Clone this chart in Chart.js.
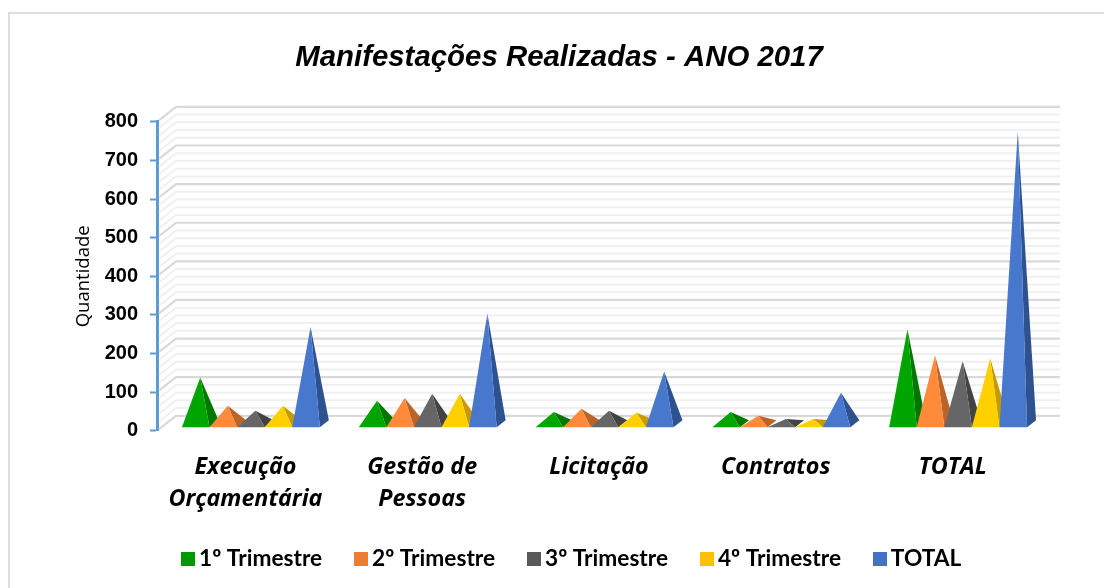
<!DOCTYPE html>
<html><head><meta charset="utf-8">
<style>html,body{margin:0;padding:0;background:#fff}#w{width:1104px;height:588px;position:relative}</style>
<script src="https://cdn.jsdelivr.net/npm/chart.js@4"></script></head>
<body><div id="w"><canvas id="c" width="1104" height="588"></canvas></div>
<script>
const categories = [['Execução','Orçamentária'],['Gestão de','Pessoas'],'Licitação','Contratos','TOTAL'];
const trimestre1 = [121,61,32,32,246];
const trimestre2 = [48,68,40,22,178];
const trimestre3 = [35,79,35,14,163];
const trimestre4 = [48,79,30,14,171];
const totalSerie = [252,287,137,82,758];
const seriesNames = ['1º Trimestre','2º Trimestre','3º Trimestre','4º Trimestre','TOTAL'];
const legendColors = ['#009A00','#ED7D31','#595959','#FFC000','#4472C4'];
const frontColors = ['#00A500','#FF8A3A','#666666','#FFD000','#4878CE'];
const sideColors = ['#007800','#BC6428','#434343','#C99A00','#2E5290'];

const wall = {dx:19, dy:15};
const pyr = {shift:5.5, baseUp:3.5, apexUp:6.5, dx:9, dy:7};

function swatch(color){
  const s = document.createElement('canvas'); s.width = 14; s.height = 14;
  const g = s.getContext('2d'); g.fillStyle = color; g.fillRect(0,0,14,14);
  return s;
}
const swatches = legendColors.map(swatch);

const pyramidPlugin = {
  id:'pyramid',
  beforeDatasetsDraw(chart){
    const y = chart.scales.y, a = chart.chartArea, c = chart.ctx;
    c.save();
    for(let v=0; v<=800; v+=20){
      const p = y.getPixelForValue(v);
      const major = v%100===0;
      c.strokeStyle = major ? '#D9D9D9' : '#F0F0F0';
      c.lineWidth = major ? 2.2 : 2;
      c.beginPath();
      c.moveTo(a.left+2, p-1.6);
      c.lineTo(a.left+wall.dx, p-wall.dy);
      c.lineTo(a.right+wall.dx, p-wall.dy);
      c.stroke();
    }
    c.restore();
  },
  beforeDatasetDraw(){ return false; },
  afterDatasetsDraw(chart){
    const c = chart.ctx, y = chart.scales.y;
    c.save();
    chart.data.datasets.forEach((ds,i)=>{
      chart.getDatasetMeta(i).data.forEach((b,j)=>{
        const cx = b.x+pyr.shift, w = b.width, l = cx-w/2, r = cx+w/2;
        const by = y.getPixelForValue(0)-pyr.baseUp;
        const ax = cx+pyr.dx/2, ay = y.getPixelForValue(ds.data[j])-pyr.apexUp;
        c.fillStyle = sideColors[i];
        c.beginPath(); c.moveTo(r,by); c.lineTo(r+pyr.dx,by-pyr.dy); c.lineTo(ax,ay); c.closePath(); c.fill();
        c.fillStyle = frontColors[i];
        c.beginPath(); c.moveTo(l,by); c.lineTo(r,by); c.lineTo(ax,ay); c.closePath(); c.fill();
      });
    });
    c.restore();
  },
  afterLayout(chart){
    chart.titleBlock.left += 38.5; chart.titleBlock.right += 38.5;
    chart.legend.left += 54; chart.legend.right += 54;
    chart.legend.top -= 8; chart.legend.bottom -= 8;
  },
  beforeDraw(chart){
    const c = chart.ctx;
    c.save(); c.strokeStyle='#DEDEDE'; c.lineWidth=2;
    c.beginPath(); c.moveTo(9,588); c.lineTo(9,13); c.lineTo(1104,13); c.stroke(); c.restore();
  }
};

const seriesValues = [trimestre1,trimestre2,trimestre3,trimestre4,totalSerie];
new Chart(document.getElementById('c'),{
  type:'bar',
  data:{labels:categories,datasets:seriesNames.map((n,i)=>({label:n,data:seriesValues[i],backgroundColor:legendColors[i],borderWidth:0,barPercentage:1,categoryPercentage:0.78}))},
  plugins:[pyramidPlugin],
  options:{
    responsive:false,animation:false,
    layout:{padding:{left:0,right:63,top:0,bottom:0}},
    plugins:{
      tooltip:{enabled:false},
      title:{display:true,text:'Manifestações Realizadas - ANO 2017',color:'#000',
        font:{family:'"Liberation Sans"',size:29.4,style:'italic',weight:'bold'},padding:{top:40,bottom:46.6}},
      legend:{position:'bottom',labels:{color:'#000',usePointStyle:true,pointStyleWidth:0.01,boxHeight:14,padding:38.5,
        font:{family:'Lato',size:22.7,weight:'bold'},
        generateLabels(chart){
          const items = Chart.defaults.plugins.legend.labels.generateLabels(chart);
          items.forEach((it,i)=>{it.pointStyle = swatches[i];});
          return items;
        }}}
    },
    scales:{
      x:{grid:{display:false},border:{display:false},
        ticks:{color:'#000',padding:12,maxRotation:0,autoSkip:false,font:{family:'"Open Sans"',size:23.3,style:'italic',weight:'bold',lineHeight:1.38}},
        afterFit(s){s.height=86}},
      y:{min:0,max:800,
        grid:{drawOnChartArea:false,drawTicks:true,tickColor:'#5B9BD5',tickLength:7,tickWidth:2},
        border:{display:true,color:'#5B9BD5',width:3},
        ticks:{stepSize:100,color:'#000',padding:12,font:{family:'"Liberation Sans"',size:20,weight:'bold'}},
        title:{display:true,text:'Quantidade',color:'#000',padding:{top:73,bottom:0},font:{family:'"Open Sans"',size:18.5}},
        afterFit(s){s.width=157}}
    }
  }
});
</script></body></html>
